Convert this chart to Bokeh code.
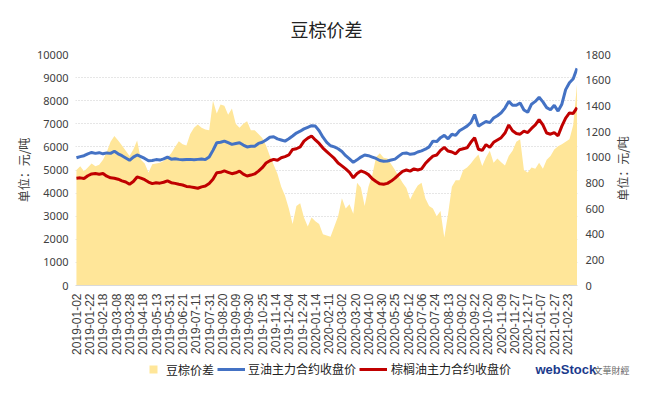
import math
from bokeh.plotting import figure
from bokeh.layouts import column, row
from bokeh.models import Range1d, LinearAxis, FixedTicker, Legend, LegendItem, Label
from bokeh.embed import file_html
from bokeh.resources import INLINE

# ---- data ----
tick_labels = [
    "2019-01-02", "2019-01-22", "2019-02-18", "2019-03-08", "2019-03-28", "2019-04-18",
    "2019-05-13", "2019-05-31", "2019-06-21", "2019-07-11", "2019-07-31", "2019-08-20",
    "2019-09-09", "2019-09-30", "2019-10-25", "2019-11-14", "2019-12-04", "2019-12-24",
    "2020-01-14", "2020-02-11", "2020-03-02", "2020-03-20", "2020-04-10", "2020-04-30",
    "2020-05-25", "2020-06-12", "2020-07-06", "2020-07-24", "2020-08-13", "2020-09-02",
    "2020-09-22", "2020-10-20", "2020-11-09", "2020-11-27", "2020-12-17", "2021-01-07",
    "2021-01-27", "2021-02-23",
]
tick_positions = [0, 14, 28, 42, 56, 70, 84, 98, 112, 126, 140, 154, 168, 182, 196, 210,
                  224, 238, 252, 266, 280, 294, 308, 322, 336, 350, 364, 378, 392, 406,
                  420, 434, 448, 462, 476, 490, 504, 518]

# trading-day position of each sample
day_index = list(range(0, 529, 4))

# 豆棕价差 (right axis)
spread = [
    900, 930, 890, 920, 950, 930, 940, 980, 1040, 1120,
    1164, 1130, 1090, 1050, 1010, 1060, 1130, 980, 950, 880,
    945, 950, 957, 970, 995, 1030, 1080, 1125, 1100, 1090,
    1180, 1230, 1254, 1230, 1215, 1210, 1440, 1340, 1410, 1400,
    1330, 1380, 1260, 1230, 1260, 1280, 1210, 1210, 1180, 1150,
    1090, 1010, 940, 870, 770, 700, 600, 480, 620, 640,
    530, 460, 530, 500, 480, 400, 390, 380, 460, 540,
    680, 600, 634, 560, 800, 763, 620, 770, 860, 1000,
    1030, 995, 990, 944, 900, 850, 800, 760, 670, 730,
    780, 800, 680, 620, 600, 540, 580, 375, 560, 770,
    820, 820, 900, 920, 950, 990, 1020, 931, 1000, 1050,
    957, 990, 960, 935, 1009, 1050, 1120, 1140, 900, 880,
    920, 910, 957, 910, 980, 1009, 1060, 1086, 1100, 1120,
    1140, 1250, 1570,
]

# 豆油主力合约收盘价 (left axis)
soy = [
    5530, 5580, 5620, 5700, 5760, 5720, 5750, 5700, 5740, 5720,
    5810, 5700, 5620, 5520, 5420, 5560, 5650, 5580, 5500, 5400,
    5410, 5450, 5430, 5480, 5560, 5470, 5490, 5460, 5440, 5450,
    5460, 5440, 5460, 5480, 5450, 5560, 5850, 6180, 6200, 6250,
    6180, 6110, 6150, 6180, 6080, 6000, 6030, 6030, 6150, 6200,
    6300, 6420, 6440, 6350, 6300, 6250, 6350, 6470, 6600, 6680,
    6780, 6850, 6920, 6900, 6700, 6420, 6200, 6050, 6000, 5920,
    5800, 5620, 5480, 5330, 5440, 5560, 5650, 5620, 5560, 5500,
    5410, 5380, 5390, 5430, 5470, 5600, 5720, 5740, 5680, 5700,
    5780, 5830, 5900, 6000, 6250, 6230, 6400, 6500, 6350, 6550,
    6500, 6700, 6800, 6900, 7050, 7400, 6900, 7000, 7100, 7050,
    7250, 7350, 7480, 7680, 7970, 7800, 7800, 7900, 7600, 7500,
    7850, 7970, 8150, 7950, 7700, 7610, 7800, 7550, 7850, 8480,
    8780, 8950, 9400,
]

# 棕榈油主力合约收盘价 (left axis)
palm = [
    4640, 4660, 4630, 4750, 4830, 4850, 4820, 4850, 4730, 4660,
    4640, 4600, 4530, 4480, 4380, 4500, 4700, 4650, 4580, 4480,
    4410, 4450, 4430, 4470, 4530, 4450, 4420, 4380, 4350, 4290,
    4270, 4240, 4210, 4270, 4310, 4420, 4600, 4880, 4900, 4960,
    4900, 4840, 4880, 4950, 4820, 4740, 4780, 4830, 4950, 5100,
    5300, 5400, 5460, 5420, 5530, 5580, 5650, 5890, 5920, 6000,
    6250, 6380, 6470, 6300, 6150, 5950, 5800, 5650, 5500, 5300,
    5180, 5050, 4900, 4660, 4850, 4960, 4900, 4800, 4620, 4500,
    4400, 4380, 4420, 4520, 4650, 4800, 4940, 5000, 4950, 5050,
    5000, 5050, 5280, 5450, 5600, 5650, 5850, 5980, 5820, 5780,
    5700, 5880, 5920, 5960, 6200, 6400, 5900, 5850, 6100, 5980,
    6200, 6300, 6400, 6600, 6950, 6700, 6580, 6550, 6680, 6620,
    6800, 6950, 7180, 6950, 6600, 6550, 6620, 6480, 6900, 7250,
    7470, 7450, 7700,
]

left_ticks = [0, 1000, 2000, 3000, 4000, 5000, 6000, 7000, 8000, 9000, 10000]
right_ticks = [0, 200, 400, 600, 800, 1000, 1200, 1400, 1600, 1800]
unit_label = "单位：元/吨"

CJK = "Noto Sans CJK SC"
TXT = "#404040"
YELLOW = "#FFE699"
BLUE = "#4472C4"
RED = "#C00000"

MAIN_W, MAIN_H = 614, 358


def no_align(fig):
    try:
        fig.frame_align = False
    except Exception:
        pass


def plain_axis(ax):
    ax.axis_line_color = None
    ax.major_tick_line_color = None
    ax.minor_tick_line_color = None
    ax.major_tick_out = 0
    ax.major_tick_in = 0
    ax.minor_tick_out = 0
    ax.minor_tick_in = 0


# ---------------- main chart ----------------
p = figure(width=MAIN_W, height=MAIN_H, output_backend="svg", toolbar_location=None,
           x_range=Range1d(-1, 528.5), y_range=Range1d(0, 10000),
           min_border_left=75, min_border_right=37, min_border_top=53,
           min_border_bottom=MAIN_H - 285)
no_align(p)
p.extra_y_ranges = {"spread": Range1d(0, 1800)}
p.outline_line_color = None

p.title.text = "豆棕价差"
p.title.align = "center"
p.title.text_font = CJK
p.title.text_font_size = "18px"
p.title.text_font_style = "normal"
p.title.text_color = "#222222"
p.title.standoff = 26

p.xgrid.visible = False
p.ygrid.ticker = FixedTicker(ticks=left_ticks)
p.ygrid.grid_line_color = "#cccccc"
p.ygrid.grid_line_dash = "1 2"

ya = p.yaxis[0]
ya.ticker = FixedTicker(ticks=left_ticks)
ya.axis_label = unit_label
ya.axis_label_text_font = CJK
ya.axis_label_text_font_size = "12px"
ya.axis_label_text_font_style = "normal"
ya.axis_label_text_color = TXT
ya.axis_label_standoff = 2
ya.major_label_text_font = "Noto Sans"
ya.major_label_text_font_size = "11px"
ya.major_label_text_color = TXT
ya.major_label_standoff = 7
plain_axis(ya)

ra = LinearAxis(y_range_name="spread", ticker=FixedTicker(ticks=right_ticks))
ra.major_label_text_font = "Noto Sans"
ra.major_label_text_font_size = "11px"
ra.major_label_text_color = TXT
ra.major_label_standoff = 8
ra.axis_label_standoff = 0
plain_axis(ra)
p.add_layout(ra, "right")

xa = p.xaxis[0]
xa.ticker = FixedTicker(ticks=tick_positions)
xa.major_label_overrides = {t: s for t, s in zip(tick_positions, tick_labels)}
xa.major_label_orientation = math.pi / 2
xa.major_label_text_font = "Liberation Sans"
xa.major_label_text_font_size = "12px"
xa.major_label_text_color = TXT
xa.major_label_standoff = 8
xa.axis_label_standoff = 0
plain_axis(xa)
xa.axis_line_color = "#d9d9d9"

p.varea(x=day_index, y1=0, y2=spread, y_range_name="spread",
        fill_color=YELLOW, fill_alpha=1.0)
p.line(day_index, soy, line_color=BLUE, line_width=3)
p.line(day_index, palm, line_color=RED, line_width=3)

# ---------------- right-axis title strip ----------------
r = figure(width=631 - MAIN_W, height=MAIN_H, output_backend="svg", toolbar_location=None,
           x_range=Range1d(0, 631 - MAIN_W), y_range=Range1d(0, MAIN_H),
           min_border_left=0, min_border_right=0, min_border_top=0,
           min_border_bottom=0)
no_align(r)
r.axis.visible = False
r.grid.visible = False
r.outline_line_color = None
r.add_layout(Label(x=622 - MAIN_W, y=MAIN_H - 168, text=unit_label, angle=math.pi / 2,
                   text_align="center", text_baseline="middle",
                   text_font=CJK, text_font_size="12px", text_color=TXT))

# ---------------- legend / logo strip ----------------
STRIP_H = 377 - MAIN_H
q = figure(width=631, height=STRIP_H, output_backend="svg", toolbar_location=None,
           x_range=Range1d(0, 631), y_range=Range1d(0, STRIP_H),
           min_border_left=0, min_border_right=0, min_border_top=0,
           min_border_bottom=0)
no_align(q)
q.axis.visible = False
q.grid.visible = False
q.outline_line_color = None

# legend proxies (same series, far outside this strip's view)
k_area = q.scatter(x=day_index, y=spread, marker="square", size=8,
                   fill_color=YELLOW, line_color=None)
k_soy = q.line(x=day_index, y=soy, line_color=BLUE, line_width=3)
k_palm = q.line(x=day_index, y=palm, line_color=RED, line_width=3)


def make_legend(label, rend, loc, gw, gh, standoff):
    lg = Legend(items=[LegendItem(label=label, renderers=[rend])], location=loc,
                orientation="horizontal", glyph_width=gw, glyph_height=gh,
                label_height=gh, label_standoff=standoff, padding=0, margin=0,
                border_line_color=None, background_fill_alpha=0,
                label_text_font=CJK, label_text_font_size="12px",
                label_text_color="#222222")
    q.add_layout(lg)


make_legend("豆棕价差", k_area, (143, -2), 20, 20, 3)
make_legend("豆油主力合约收盘价", k_soy, (217, 0), 28, 16, 3)
make_legend("棕榈油主力合约收盘价", k_palm, (359, 0), 28, 16, 4)

q.add_layout(Label(x=535, y=8, text="webStock",
                   text_font="Liberation Sans", text_font_style="bold",
                   text_font_size="13px", text_color="#1b3a8c", text_baseline="middle"))
q.add_layout(Label(x=593, y=7, text="文華財經",
                   text_font=CJK, text_font_size="9px", text_color="#666666",
                   text_baseline="middle"))

layout = column(row(p, r, spacing=0), q, spacing=0)
open("out.html", "w").write(file_html(layout, INLINE))
